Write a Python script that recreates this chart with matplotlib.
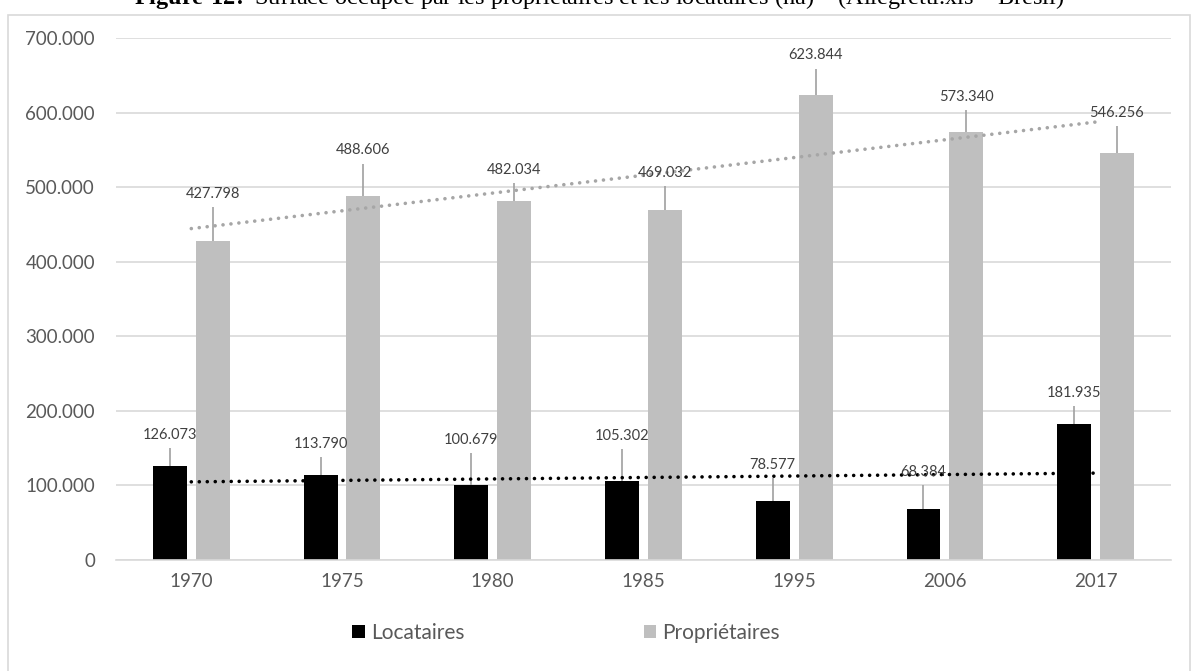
import matplotlib.pyplot as plt
import numpy as np
from matplotlib.patches import Rectangle
from matplotlib.ticker import FuncFormatter

years = ["1970", "1975", "1980", "1985", "1995", "2006", "2017"]
locataires = [126073, 113790, 100679, 105302, 78577, 68384, 181935]
proprietaires = [427798, 488606, 482034, 469032, 623844, 573340, 546256]
err_locataires = [24000, 24000, 43000, 43000, 31000, 32000, 24000]
err_proprietaires = [45000, 43000, 23000, 32000, 35000, 30000, 36000]

BLACK = "#000000"
GREY = "#BFBFBF"
TEXT = "#595959"
GRID = "#D9D9D9"


def thousands(v, pos=None):
    return f"{int(round(v)):,}".replace(",", ".")


def main():
    plt.rcParams["font.family"] = ["Lato", "DejaVu Sans"]
    plt.rcParams["mathtext.fontset"] = "custom"
    plt.rcParams["mathtext.rm"] = "Liberation Serif"
    plt.rcParams["mathtext.bf"] = "Liberation Serif:bold"
    fig = plt.figure(figsize=(11.99, 6.71), dpi=100)
    ax = fig.add_axes([0.0967, 0.1654, 0.8799, 0.778])

    # chart border like the Excel chart area
    fig.patches.append(Rectangle((8 / 1199, -0.05), 1182 / 1199, 1.05 - 15 / 671,
                                 transform=fig.transFigure, fill=False,
                                 edgecolor=GRID, linewidth=1.2))

    # title sits above the chart and is cut by the image edge, as in the source
    fig.text(0.5, 1 - 4 / 671, r"$\bf{Figure\ 12\!:}$ Surface occupée par les propriétaires et les locataires (ha) – (Allegretti.xls – Brésil)",
             ha="center", va="baseline", fontsize=17.5, family="Liberation Serif")

    x = np.arange(len(years))
    w = 0.225
    off = 0.142

    ax.bar(x - off, locataires, w, color=BLACK, zorder=2, label="Locataires")
    ax.bar(x + off, proprietaires, w, color=GREY, zorder=2, label="Propriétaires")

    # plus-only error bars
    ax.errorbar(x - off, locataires, yerr=[np.zeros(len(x)), err_locataires],
                fmt="none", ecolor="#A0A0A0", elinewidth=1.2, capsize=0, zorder=3)
    ax.errorbar(x + off, proprietaires, yerr=[np.zeros(len(x)), err_proprietaires],
                fmt="none", ecolor="#A0A0A0", elinewidth=1.2, capsize=0, zorder=3)

    for xi, v, e in zip(x - off, locataires, err_locataires):
        ax.annotate(thousands(v), (xi, v + e), xytext=(0, 9.5), textcoords="offset points",
                    ha="center", va="center", fontsize=10.5, color="#404040", zorder=5)
    for xi, v, e in zip(x + off, proprietaires, err_proprietaires):
        ax.annotate(thousands(v), (xi, v + e), xytext=(0, 9.5), textcoords="offset points",
                    ha="center", va="center", fontsize=10.5, color="#404040", zorder=5)

    # linear trendlines
    for vals, col in [(locataires, BLACK), (proprietaires, "#A6A6A6")]:
        coef = np.polyfit(x, vals, 1)
        ax.plot(x, np.polyval(coef, x), color=col, linewidth=2.6,
                linestyle=(0, (0.01, 2.2)), dash_capstyle="round", zorder=4)

    ax.set_xlim(-0.5, len(years) - 0.5)
    ax.set_ylim(0, 700000)
    ax.set_yticks(np.arange(0, 700001, 100000))
    ax.yaxis.set_major_formatter(FuncFormatter(thousands))
    ax.set_xticks(x)
    ax.set_xticklabels(years)
    ax.tick_params(axis="both", length=0, labelsize=13.5, labelcolor=TEXT)
    ax.tick_params(axis="y", pad=15)
    ax.tick_params(axis="x", pad=9)
    ax.grid(axis="y", color=GRID, linewidth=1.2, zorder=0)
    ax.set_axisbelow(True)
    for s in ["top", "right", "left"]:
        ax.spines[s].set_visible(False)
    ax.spines["bottom"].set_color(GRID)
    ax.spines["bottom"].set_linewidth(1.2)

    handles, labels = ax.get_legend_handles_labels()
    fig.legend(handles, labels, loc="center", bbox_to_anchor=(566 / 1199, 1 - 633 / 671),
               ncol=2, frameon=False, fontsize=15, labelcolor=TEXT,
               handlelength=0.6, handleheight=0.6, handletextpad=0.3, columnspacing=8.6)

    fig.savefig("out.png", dpi=100)


if __name__ == "__main__":
    main()
